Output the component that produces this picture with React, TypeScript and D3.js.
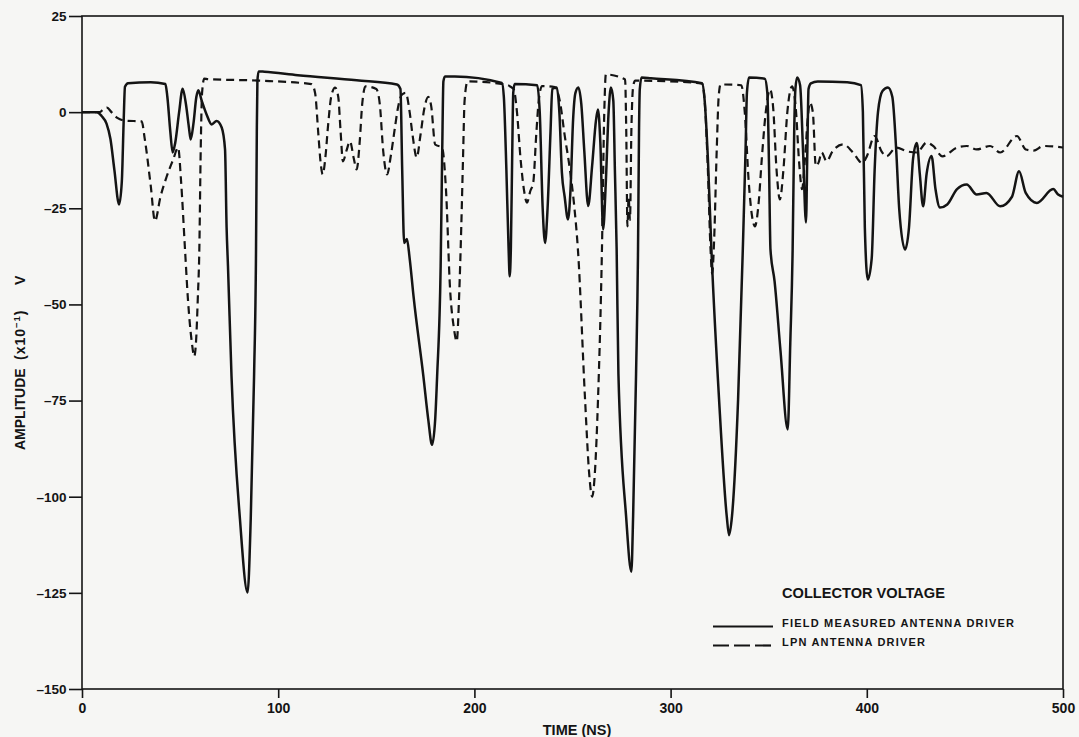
import React, { useEffect, useRef } from 'react';
import * as d3 from 'd3';

// time (ns), amplitude (x10^-1 V)
const fieldMeasured: [number, number][] = [
  [0,0],[7.6,0],[10,-1],[12.5,-3],[14.5,-7],[16.5,-15],[18.9,-24],[20.3,-18],[21.2,-3],[21.9,6.6],[23.5,7.5],[35,7.8],[42.5,7.3],[43.5,4],[45,-5],[46.2,-10.5],[47.5,-8],[49.5,0],[51.3,6.1],[53,2],[54.5,-4],[55.4,-7.1],[56.8,-3],[58.3,4],[59.3,5.7],[61,3],[63.5,-0.6],[66.1,-3.2],[68.6,-2.3],[71.2,-4],[72.9,-9.7],[73.7,-30],[74.4,-40],[76.2,-68.6],[80.5,-105.8],[84.4,-124.9],[86,-105.8],[87.7,-68.6],[88.7,-35.7],[89.1,-5],[89.4,8],[90,10.6],[93,10.5],[110,9.6],[140,8.3],[160.5,7.2],[162.3,6],[163.2,-15],[164.2,-34],[165.6,-33],[167,-38],[169,-48],[174,-68.7],[176.5,-80],[178.4,-86.5],[180,-80],[181,-68.7],[182.8,-40],[183.6,-10],[184.2,8],[185,9.3],[190,9.3],[214,7.6],[215,4],[216.3,-15],[217.4,-35],[218,-42.7],[218.6,-35],[219.3,-10],[219.8,5],[220.5,7.3],[232,7],[233.3,0],[234.8,-25],[236,-34],[237.3,-25],[238.8,-5],[239.7,6],[242,6.4],[243.3,0],[244.6,-15.8],[246,-22],[247.7,-27.9],[249,-20],[250.3,-2],[251.5,5],[253,6.4],[254.5,2],[256,-10],[258,-24.4],[260,-14],[262,-2],[263,0.7],[264.2,-8],[265.6,-30.5],[267,-18],[268.4,0],[269.6,6.4],[270.8,3],[271.6,-15],[272.5,-35.7],[273.4,-68],[277.3,-105],[280,-119.5],[280.9,-105],[282.4,-68],[283.4,-35.7],[283.9,-5],[284.3,6],[285.2,9],[290,8.8],[316,7.5],[317.2,4],[319,-12],[320.8,-35.7],[324.7,-74.7],[328.6,-105],[329.8,-110],[331.3,-105],[334.4,-74.7],[336.8,-35.7],[338.2,-10],[338.9,5],[340,9],[348,8.7],[349.3,5],[350.2,-15],[350.9,-35.7],[353,-44],[356,-62],[359.7,-82.5],[361,-60],[362.2,-35.7],[363,-5],[363.6,6],[364.5,9],[366,7],[367.5,-10],[369,-28.7],[369.7,-10],[370.3,6],[371.5,7.5],[375,8],[390,7.8],[397,7],[398,0],[399,-30],[400.5,-43.5],[402.5,-38],[404,-15],[405.7,0],[408,5.5],[410.8,6.4],[413,4],[415,-10],[416.5,-25],[419.5,-35.7],[421.5,-30],[423.6,-12],[425.5,-8],[427,-16],[428.7,-24.5],[430.5,-16],[433,-11.4],[435,-20],[437.3,-24.8],[441,-24],[446,-20],[450.9,-18.8],[456,-21.4],[461,-21],[468,-24.5],[474,-22],[477.6,-15.4],[481,-21],[486.7,-23.6],[495,-20],[497.5,-21.4],[500,-22]
];

const lpnDriver: [number, number][] = [
  [0,0],[9,0],[11,0.8],[12.7,1.2],[15,0],[18,-1.5],[22,-2.2],[30.4,-2.4],[32,-7],[35,-19],[37.2,-28.3],[40,-22],[43,-17],[46.5,-12.3],[49,-9.2],[50.5,-18],[52.5,-35.7],[54,-48.7],[56,-60],[57.2,-63.5],[58.3,-58],[59,-48.7],[59.8,-35.7],[60.5,-10],[61.2,5],[62.3,8.7],[64,8.6],[90,8.2],[117,7.3],[118.8,5],[120.5,-6],[121.6,-13],[122.7,-16.2],[124,-12],[125.5,-3],[127,4],[129,6.4],[130.6,4],[131.8,-5],[133,-12.8],[134.8,-10],[136.6,-7.6],[138.5,-12],[140,-14.9],[141.5,-8],[142.8,2],[144.5,6.7],[150,6],[151.8,2],[153.5,-10],[155.5,-16.2],[157.5,-11],[159.5,-4],[161,1],[163,4.5],[165,5],[167,0],[168.5,-6],[170.6,-11.8],[172.5,-6],[174.5,1],[176.5,4],[178,1.5],[180,-8.4],[183.5,-9.2],[185.5,-20],[187.6,-46],[189.5,-56],[191,-59.6],[192.2,-48],[193.3,-30],[194.2,-12],[195,3],[196.5,8],[215.6,7.2],[220,6],[221.7,0],[223.5,-12],[225.2,-20],[226.8,-23.5],[228.5,-20.5],[230,-18.3],[231.5,-6],[232.8,3],[234.5,6.8],[241,6.5],[243.5,3],[246,-6],[248.7,-15],[250.8,-24],[252.8,-36],[256.4,-74.7],[258.5,-94],[260,-100],[261.5,-93],[263,-74.7],[265,-36],[266.2,0],[267,9.8],[276.8,8.5],[277.4,-5],[278,-29.7],[278.6,-22],[279.3,-28],[280,-5],[281,7],[282,8.2],[316,7.5],[317.5,2],[319,-15],[320.3,-35],[321.2,-42],[322.2,-33],[323.5,-10],[324.5,4],[325.5,7.2],[336,7],[337.8,0],[339.8,-18],[341.5,-27],[343,-29.7],[344.8,-24],[346.5,-12],[348.5,0],[350.7,5.9],[352.3,1],[354,-15],[355.7,-22.7],[357.5,-15],[359.5,0],[361.9,6.7],[363.8,1],[365.5,-13],[367,-20],[368.5,-12],[370,-1],[371,2.5],[372.5,0],[374,-14],[375.5,-13],[377,-10.5],[379.5,-12.8],[382.5,-10.2],[388,-8.4],[393,-10.5],[397.6,-13.2],[400,-11.5],[404,-6.2],[407.5,-10.2],[410,-11.5],[415,-9.2],[420.5,-10.2],[425.5,-10.5],[430.5,-7.9],[433.8,-8.8],[438.5,-11.5],[446,-9.2],[451,-8.8],[456,-9.7],[462.8,-8.8],[468,-10.5],[476.5,-6.2],[481,-9.7],[485,-10],[490,-8.8],[500,-9.2]
];

const xTicks = [0, 100, 200, 300, 400, 500];
const yTicks = [25, 0, -25, -50, -75, -100, -125, -150];
const legendTitle = 'COLLECTOR VOLTAGE';
const legendLabels = ['FIELD MEASURED ANTENNA DRIVER', 'LPN ANTENNA DRIVER'];
const xTitle = 'TIME (NS)';

const FONT = '"Liberation Sans", Arial, Helvetica, sans-serif';
const INK = '#141414';

export default function App() {
  const ref = useRef<SVGSVGElement>(null);

  useEffect(() => {
    document.body.style.margin = '0';
    const svg = d3.select(ref.current);
    svg.selectAll('*').remove();

    const x = d3.scaleLinear().domain([0, 500]).range([82, 1063]);
    const y = d3.scaleLinear().domain([-150, 25]).range([689, 16]);

    svg.append('rect').attr('width', 1079).attr('height', 737).attr('fill', '#f6f6f4');

    // frame
    svg.append('rect')
      .attr('x', x(0)).attr('y', y(25))
      .attr('width', x(500) - x(0)).attr('height', y(-150) - y(25))
      .attr('fill', 'none').attr('stroke', INK).attr('stroke-width', 1.6);

    const fmt = (d: number) => (d < 0 ? '\u2013' + Math.abs(d) : String(d));

    const gy = svg.append('g').attr('transform', `translate(${x(0)},0)`)
      .call(d3.axisLeft(y).tickValues(yTicks).tickSize(13).tickSizeOuter(0).tickPadding(2.5).tickFormat(fmt as any));
    gy.select('.domain').remove();
    gy.selectAll('line').attr('stroke', INK).attr('stroke-width', 1.6);
    gy.selectAll('text').attr('font-family', FONT).attr('font-weight', 'bold').attr('font-size', 13.5).attr('fill', INK);

    const gx = svg.append('g').attr('transform', `translate(0,${y(-150)})`)
      .call(d3.axisBottom(x).tickValues(xTicks).tickSize(9).tickSizeOuter(0).tickPadding(5).tickFormat(fmt as any));
    gx.select('.domain').remove();
    gx.selectAll('line').attr('stroke', INK).attr('stroke-width', 1.6);
    gx.selectAll('text').attr('font-family', FONT).attr('font-weight', 'bold').attr('font-size', 14).attr('fill', INK);

    // y axis title (rotated)
    const yt = svg.append('g').attr('transform', 'translate(25,0) rotate(-90)')
      .attr('font-family', FONT).attr('font-weight', 'bold').attr('fill', INK);
    yt.append('text').attr('x', -450).attr('y', 0).attr('font-size', 14).text('AMPLITUDE');
    const yt2 = yt.append('text').attr('x', -360).attr('y', 0).attr('font-size', 14).attr('letter-spacing', 1).text('(x10');
    yt2.append('tspan').attr('dy', -5).attr('font-size', 9.5).text('\u22121');
    yt2.append('tspan').attr('dy', 5).text(')');
    yt.append('text').attr('x', -285).attr('y', 0).attr('font-size', 14).text('V');

    svg.append('text')
      .attr('x', 577).attr('y', 735)
      .attr('text-anchor', 'middle')
      .attr('font-family', FONT).attr('font-weight', 'bold').attr('font-size', 14.5)
      .attr('fill', INK)
      .text(xTitle);

    const line = d3.line<[number, number]>()
      .x(d => x(d[0]))
      .y(d => y(d[1]))
      .curve(d3.curveMonotoneX);

    svg.append('path')
      .attr('d', line(lpnDriver))
      .attr('fill', 'none').attr('stroke', INK).attr('stroke-width', 2.2)
      .attr('stroke-dasharray', '8 5').attr('stroke-linejoin', 'round');

    svg.append('path')
      .attr('d', line(fieldMeasured))
      .attr('fill', 'none').attr('stroke', INK).attr('stroke-width', 2.5)
      .attr('stroke-linejoin', 'round');

    // legend
    const lg = svg.append('g');
    lg.append('text')
      .attr('x', 782).attr('y', 597.5)
      .attr('font-family', FONT).attr('font-weight', 'bold').attr('font-size', 14.6)
      .attr('fill', INK).text(legendTitle);
    lg.append('line').attr('x1', 713).attr('x2', 773).attr('y1', 626.5).attr('y2', 626.5)
      .attr('stroke', INK).attr('stroke-width', 2.2);
    lg.append('line').attr('x1', 713).attr('x2', 773).attr('y1', 645.5).attr('y2', 645.5)
      .attr('stroke', INK).attr('stroke-width', 2.2).attr('stroke-dasharray', '16 5');
    legendLabels.forEach((lab, i) => {
      lg.append('text')
        .attr('x', 782).attr('y', 627 + i * 19)
        .attr('font-family', FONT).attr('font-weight', 'bold').attr('font-size', 11)
        .attr('letter-spacing', 1.2)
        .attr('fill', INK).text(lab);
    });
  }, []);

  return <svg ref={ref} width={1079} height={737} style={{ display: 'block' }} />;
}
